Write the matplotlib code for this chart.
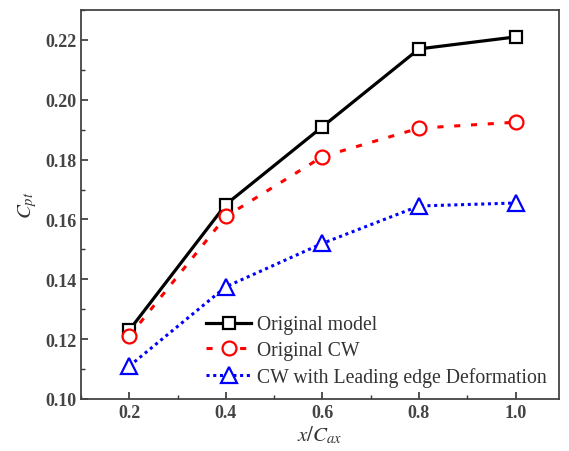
import matplotlib
matplotlib.use("Agg")
import matplotlib.pyplot as plt
from matplotlib.ticker import MultipleLocator

plt.rcParams['font.family'] = ['Liberation Serif', 'DejaVu Serif']
plt.rcParams['mathtext.fontset'] = 'stix'

# chord positions and total pressure loss for each case
x_pos = [0.2, 0.4, 0.6, 0.8, 1.0]
original_model = [0.123, 0.165, 0.191, 0.217, 0.221]
original_cw = [0.121, 0.161, 0.181, 0.1905, 0.1925]
cw_led = [0.111, 0.1375, 0.152, 0.1645, 0.1655]

labels = ["Original model", "Original CW", "CW with Leading edge Deformation"]

fig = plt.figure(figsize=(5.69, 4.52), dpi=100)
ax = fig.add_axes([81/569, 1 - 400/452, (559-81)/569, (400-11)/452])

ax.plot(x_pos, original_model, color='black', lw=2.3, ls='-', marker='s',
        ms=9, mfc='white', mec='black', mew=1.6, label=labels[0])
ax.plot(x_pos, original_cw, color='red', lw=2.2, ls=(0, (2, 3.5)), marker='o',
        ms=10, mfc='white', mec='red', mew=1.6, label=labels[1])
ax.plot(x_pos, cw_led, color='blue', lw=2.2, ls=(0, (1, 1.2)), marker='^',
        ms=11, mfc='white', mec='blue', mew=1.6, label=labels[2])

ax.set_xlim(0.1, 1.09)
ax.set_ylim(0.10, 0.23)
ax.xaxis.set_major_locator(MultipleLocator(0.2))
ax.xaxis.set_minor_locator(MultipleLocator(0.1))
ax.yaxis.set_major_locator(MultipleLocator(0.02))
ax.yaxis.set_minor_locator(MultipleLocator(0.01))
ax.set_xticks(x_pos)
ax.set_xticklabels(["0.2", "0.4", "0.6", "0.8", "1.0"])
ax.set_yticks([0.10, 0.12, 0.14, 0.16, 0.18, 0.20, 0.22])
ax.set_yticklabels(["0.10", "0.12", "0.14", "0.16", "0.18", "0.20", "0.22"])
ax.tick_params(which='both', direction='in', color='#333333', labelcolor='#444444',
               labelsize=13)
ax.tick_params(which='major', length=5, width=1.2)
ax.tick_params(which='minor', length=3, width=1)
for lab in ax.get_xticklabels() + ax.get_yticklabels():
    lab.set_fontweight('bold')
for sp in ax.spines.values():
    sp.set_linewidth(1.3)
    sp.set_color('#444444')

ax.set_xlabel(r'$x/C_{ax}$', fontsize=15, color='#333333', labelpad=2)
ax.set_ylabel(r'$C_{pt}$', fontsize=15, color='#333333', labelpad=4)

ax.legend(loc='lower right', bbox_to_anchor=(1.0, 0.0), frameon=False,
          fontsize=14.2, handlelength=2.3, handletextpad=0.3, labelspacing=0.35,
          borderaxespad=0.2, labelcolor='#333333')

fig.savefig("out.png", dpi=100)
